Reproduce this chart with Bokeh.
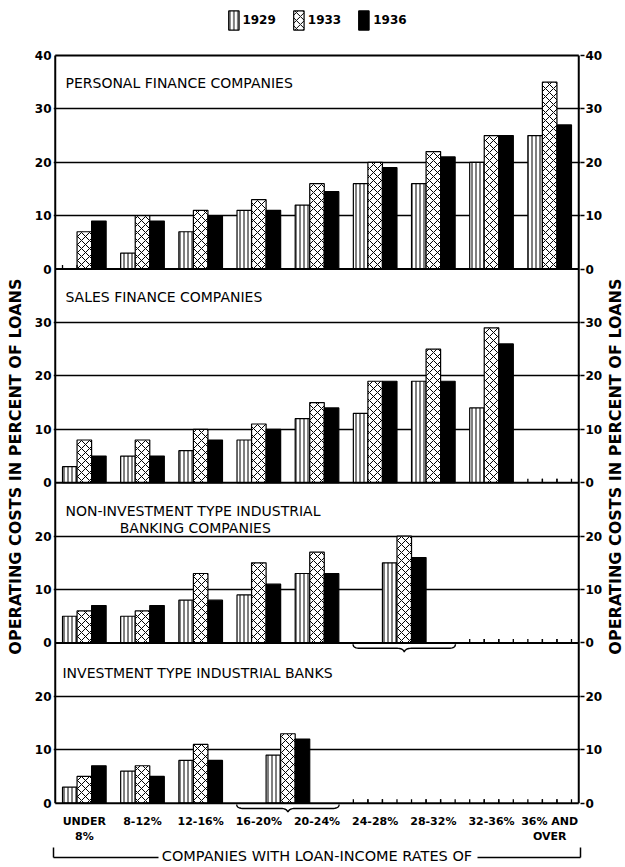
import math
import numpy as np
from bokeh.plotting import figure
from bokeh.layouts import row
from bokeh.models import (Range1d, LinearAxis, FixedTicker, Label, Legend,
                          LegendItem)
from bokeh.embed import file_html
from bokeh.resources import INLINE

# ---------------- data ----------------
categories = ["UNDER\n8%", "8-12%", "12-16%", "16-20%", "20-24%",
              "24-28%", "28-32%", "32-36%", "36% AND\nOVER"]
years = ["1929", "1933", "1936"]

# Personal finance companies (one group per category)
personal_groups = [[0], [1], [2], [3], [4], [5], [6], [7], [8]]
personal_1929 = [None, 3, 7, 11, 12, 16, 16, 20, 25]
personal_1933 = [7, 10, 11, 13, 16, 20, 22, 25, 35]
personal_1936 = [9, 9, 10, 11, 14.5, 19, 21, 25, 27]
personal_ticks = [0, 10, 20, 30, 40]

# Sales finance companies
sales_groups = [[0], [1], [2], [3], [4], [5], [6], [7], [8]]
sales_1929 = [3, 5, 6, 8, 12, 13, 19, 14, None]
sales_1933 = [8, 8, 10, 11, 15, 19, 25, 29, None]
sales_1936 = [5, 5, 8, 10, 14, 19, 19, 26, None]
sales_ticks = [0, 10, 20, 30]

# Non-investment type industrial banking companies (24-32% merged)
noninv_groups = [[0], [1], [2], [3], [4], [5, 6], [7], [8]]
noninv_1929 = [5, 5, 8, 9, 13, 15, None, None]
noninv_1933 = [6, 6, 13, 15, 17, 20, None, None]
noninv_1936 = [7, 7, 8, 11, 13, 16, None, None]
noninv_ticks = [0, 10, 20]

# Investment type industrial banks (16-24% merged)
inv_groups = [[0], [1], [2], [3, 4], [5], [6], [7], [8]]
inv_1929 = [3, 6, 8, 9, None, None, None, None]
inv_1933 = [5, 7, 11, 13, None, None, None, None]
inv_1936 = [7, 5, 8, 12, None, None, None, None]
inv_ticks = [0, 10, 20]

panel_titles = ["INVESTMENT TYPE INDUSTRIAL BANKS",
                "NON-INVESTMENT TYPE INDUSTRIAL\nBANKING COMPANIES",
                "SALES FINANCE COMPANIES",
                "PERSONAL FINANCE COMPANIES"]
y_title = "OPERATING COSTS IN PERCENT OF LOANS"
x_caption = "COMPANIES WITH LOAN-INCOME RATES OF"

# panels from bottom to top: (groups, series, ticks, panel height)
panels = [
    (inv_groups, [inv_1929, inv_1933, inv_1936], inv_ticks, 30),
    (noninv_groups, [noninv_1929, noninv_1933, noninv_1936], noninv_ticks, 30),
    (sales_groups, [sales_1929, sales_1933, sales_1936], sales_ticks, 40),
    (personal_groups, [personal_1929, personal_1933, personal_1936],
     personal_ticks, 40),
]

# ---------------- layout constants ----------------
FONT = "DejaVu Sans"
H = 867
LW, RW = 25, 20            # side strips carrying the vertical titles
W = 625 - LW - RW          # main figure width
ML, MR, MT, MB = 28, 24, 8, 55
X0, X1 = -0.03, 9.03
Y0, Y1 = -1.75, 148.8
FW, FH = W - ML - MR, H - MT - MB
XPU = FW / (X1 - X0)
YPU = FH / (Y1 - Y0)


def dx(px):   # page pixel -> data x
    return X0 + (px - LW - ML) / XPU


def dy(py):   # page pixel -> data y
    return Y1 - (py - MT) / YPU


p = figure(width=W, height=H, x_range=Range1d(X0, X1),
           y_range=Range1d(Y0, Y1), min_border_left=ML, min_border_right=MR,
           min_border_top=MT, min_border_bottom=MB, title=None,
           output_backend="svg", toolbar_location=None,
           outline_line_color=None, background_fill_color="white",
           border_fill_color="white")

styles = [
    dict(fill_color="white", hatch_pattern="vertical_line", hatch_scale=4,
         hatch_weight=1.0, hatch_color="black"),
    dict(fill_color="white", hatch_pattern="diagonal_cross", hatch_scale=8,
         hatch_weight=1.0, hatch_color="black"),
    dict(fill_color="black"),
]
BW = 0.25


def qb(p0, pc, p1, n=10):
    t = np.linspace(0, 1, n)
    bx = (1 - t) ** 2 * p0[0] + 2 * (1 - t) * t * pc[0] + t ** 2 * p1[0]
    by = (1 - t) ** 2 * p0[1] + 2 * (1 - t) * t * pc[1] + t ** 2 * p1[1]
    return list(bx), list(by)


left_ticks, left_over, grid_ticks = [], {}, []
borders_y = []
legend_renderers = {}
miss_x, miss_y0, miss_y1 = [], [], []
base = 0
for groups, series, ticks, height in panels:
    borders_y.append(base)
    for t in ticks:
        left_ticks.append(base + t)
        left_over[base + t] = str(t)
        if 0 < t < height:
            grid_ticks.append(base + t)
    centers = [float(np.mean(g)) + 0.5 for g in groups]
    for k, vals in enumerate(series):
        xs, tops = [], []
        for c, v in zip(centers, vals):
            x = c + (k - 1) * BW
            if v is None:
                for e in (x - BW / 2, x + BW / 2):
                    miss_x.append(e)
                    miss_y0.append(base)
                    miss_y1.append(base + 0.75)
            else:
                xs.append(x)
                tops.append(base + v)
        r = p.vbar(x=xs, top=tops, bottom=base, width=BW, line_color="black",
                   line_width=1.2, **styles[k])
        legend_renderers.setdefault(years[k], r)
    # braces under merged groups
    for g, c in zip(groups, centers):
        if len(g) > 1:
            hw = 0.88 * len(g) / 2
            pts_x, pts_y = [], []
            segs = [
                ((c - hw, base - 0.25), (c - hw, base - 1.0), (c - hw + 0.12, base - 1.0)),
                ((c - 0.12, base - 1.0), (c - 0.02, base - 1.0), (c, base - 1.7)),
                ((c, base - 1.7), (c + 0.02, base - 1.0), (c + 0.12, base - 1.0)),
                ((c + hw - 0.12, base - 1.0), (c + hw, base - 1.0), (c + hw, base - 0.25)),
            ]
            for s in segs:
                bx, by = qb(*s)
                pts_x += bx
                pts_y += by
            p.line(pts_x, pts_y, line_color="black", line_width=1.4)
    base += height
borders_y.append(base)
TOP = base

# ticks marking absent bars
p.segment(x0=miss_x, y0=miss_y0, x1=miss_x, y1=miss_y1, line_color="black",
          line_width=1.3)

# panel borders
p.segment(x0=[0] * len(borders_y), y0=borders_y, x1=[9] * len(borders_y),
          y1=borders_y, line_color="black", line_width=2)
p.segment(x0=[0, 9], y0=[0, 0], x1=[0, 9], y1=[TOP, TOP], line_color="black",
          line_width=2)

# grid
p.xgrid.visible = False
p.ygrid[0].ticker = FixedTicker(ticks=grid_ticks)
p.ygrid[0].grid_line_color = "black"
p.ygrid[0].grid_line_width = 1.5


def style_axis(ax, size="12px", bold=True):
    ax.axis_line_color = None
    ax.major_tick_in = 0
    ax.minor_tick_out = 0
    ax.minor_tick_in = 0
    ax.major_label_text_font = FONT
    ax.major_label_text_font_style = "bold" if bold else "normal"
    ax.major_label_text_font_size = size
    ax.major_label_text_color = "black"


# left axis
ya = p.yaxis[0]
ya.ticker = FixedTicker(ticks=left_ticks)
ya.major_label_overrides = left_over
style_axis(ya)
ya.major_tick_out = 0
ya.major_label_standoff = 2

# right axis
ra = LinearAxis(ticker=FixedTicker(ticks=left_ticks),
                major_label_overrides=left_over)
style_axis(ra)
ra.major_tick_out = 4
ra.major_tick_line_width = 1.5
ra.major_tick_line_color = "black"
ra.major_label_standoff = 1
p.add_layout(ra, "right")

# bottom axis with the rate classes
xa = p.xaxis[0]
xa.ticker = FixedTicker(ticks=[i + 0.5 for i in range(len(categories))])
xa.major_label_overrides = {i + 0.5: c for i, c in enumerate(categories)}
style_axis(xa, size="11px")
xa.major_tick_out = 0
xa.major_label_standoff = 2


def bare_axis(**kw):
    ax = LinearAxis(ticker=FixedTicker(ticks=[]), **kw)
    ax.axis_line_color = None
    ax.major_tick_in = 0
    ax.major_tick_out = 0
    ax.minor_tick_in = 0
    ax.minor_tick_out = 0
    ax.major_label_standoff = 0
    ax.major_label_text_font_size = "0px"
    ax.major_label_text_alpha = 0
    return ax


# bottom bracket: spacer, two line pieces with end ticks, caption
spacer = bare_axis()
spacer.ticker = FixedTicker(ticks=[4.5])
spacer.major_tick_out = 11
spacer.major_tick_line_alpha = 0
p.add_layout(spacer, "below")

xl, xr = dx(53.2), dx(580.8)
gap_l, gap_r = dx(158), dx(478)
for a, b, tk in [(xl, gap_l, xl), (gap_r, xr, xr)]:
    ba = bare_axis(bounds=(a, b))
    ba.ticker = FixedTicker(ticks=[tk])
    ba.major_label_overrides = {tk: ""}
    ba.major_tick_in = 10
    ba.major_tick_line_width = 1.5
    ba.major_tick_line_color = "black"
    ba.axis_line_width = 1.5
    ba.axis_line_color = "black"
    p.add_layout(ba, "below")

ca = bare_axis(axis_label=x_caption)
ca.axis_label_standoff = -10
ca.axis_label_text_font = FONT
ca.axis_label_text_font_style = "normal"
ca.axis_label_text_font_size = "14.5px"
ca.axis_label_text_color = "black"
p.add_layout(ca, "below")

# panel titles
title_pos = [(dx(65), dy(82.5), "left"), (dx(65), dy(296), "left"),
             (dx(65), dy(510), "left"), (dx(195), dy(527), "center"),
             (dx(62), dy(672), "left")]
title_lines = []
for t in reversed(panel_titles):
    title_lines += t.split("\n")
for txt, (tx, ty, al) in zip(title_lines, title_pos):
    p.add_layout(Label(x=tx, y=ty, text=txt, text_align=al,
                       text_baseline="middle", text_font=FONT,
                       text_font_size="14px", text_color="black"))

# legend
legend = Legend(items=[LegendItem(label=y, renderers=[legend_renderers[y]])
                       for y in years],
                orientation="horizontal", location="top_center",
                glyph_width=13, glyph_height=24, label_standoff=3, spacing=16,
                padding=0, margin=0, border_line_color=None,
                background_fill_alpha=0, label_text_font=FONT,
                label_text_font_style="bold", label_text_font_size="12px",
                label_text_color="black")
p.add_layout(legend)


# side strips with the vertical axis titles
def side_strip(width, x_left, x_text, y_text):
    s = figure(width=width, height=H, x_range=Range1d(x_left, x_left + width),
               y_range=Range1d(H, 0), x_axis_location=None,
               y_axis_location=None, min_border=0, min_border_left=0,
               min_border_right=0, min_border_top=0, min_border_bottom=0,
               title=None, output_backend="svg", toolbar_location=None,
               outline_line_color=None, background_fill_color="white",
               border_fill_color="white")
    s.grid.visible = False
    s.add_layout(Label(x=x_text, y=y_text, text=y_title, angle=math.pi / 2,
                       text_align="center", text_baseline="middle",
                       text_font=FONT, text_font_style="bold",
                       text_font_size="16px", text_color="black"))
    return s


left_strip = side_strip(LW, 0, 15, 494)
right_strip = side_strip(RW, 625 - RW, 615, 494)

layout = row(left_strip, p, right_strip, spacing=0)
open("out.html", "w").write(file_html(layout, INLINE))
